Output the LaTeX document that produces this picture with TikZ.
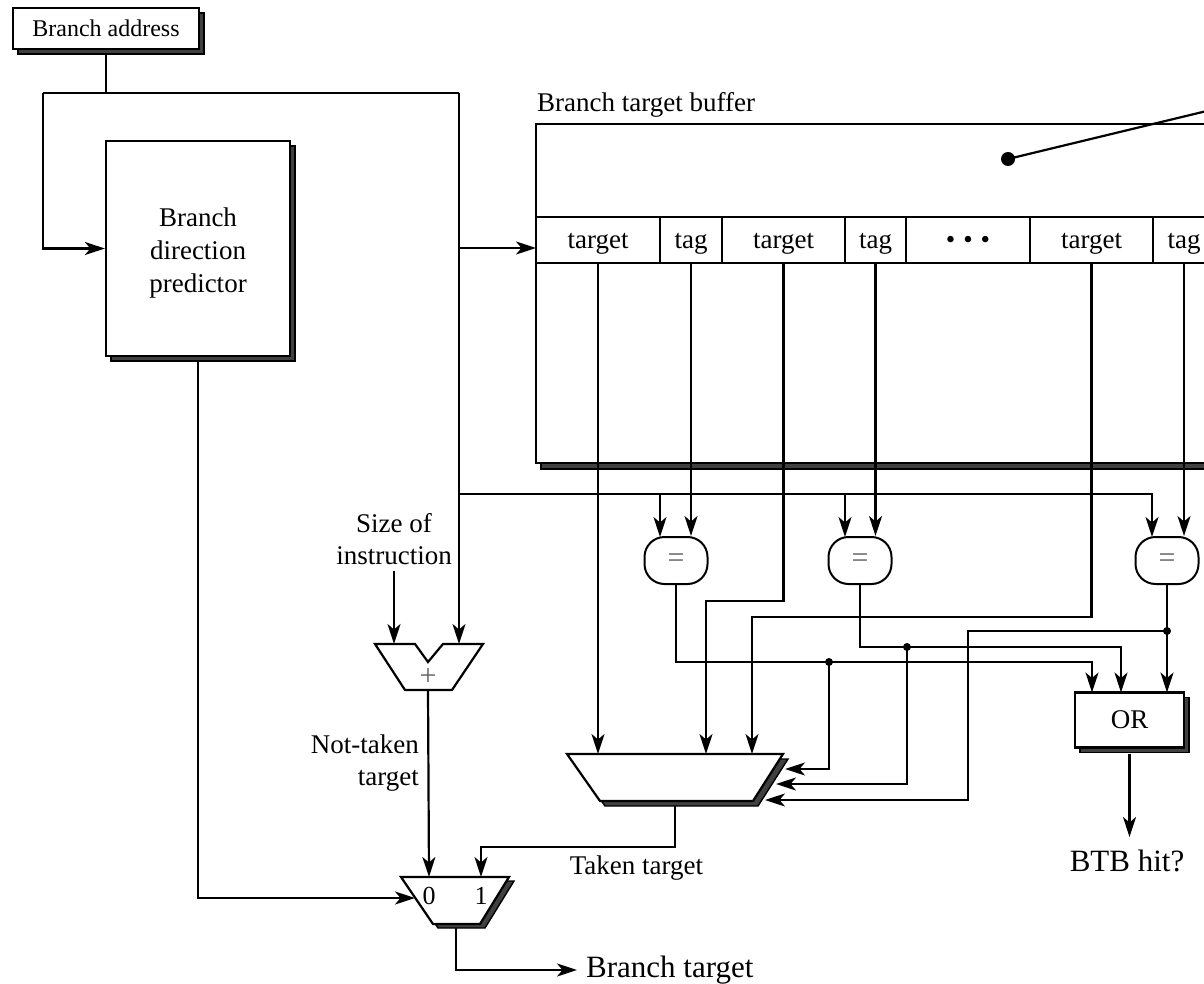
\documentclass[tikz,border=0pt]{standalone}
\usepackage{fontspec}
\setmainfont{Liberation Serif}
\usetikzlibrary{arrows.meta,calc,shadows}
\begin{document}
\begin{tikzpicture}[x=1pt,y=-1pt,
 wire/.style={line width=2.2pt},
 arr/.style={wire,-{Stealth[length=20pt,width=13pt,inset=5.5pt]}},
 lbl/.style={font=\fontsize{27}{31}\selectfont, inner sep=0pt},
 big/.style={font=\fontsize{31}{34}\selectfont, inner sep=0pt},
 shadowfill/.style={fill=gray!50!black, draw=black, line width=1.4pt},
 shbox/.style={drop shadow={shadow xshift=5pt,shadow yshift=-5pt,fill=gray!50!black,draw=black,line width=1.4pt,opacity=1}},
 box/.style={draw, fill=white, line width=2.2pt, inner sep=0pt},
 cell/.style={draw, line width=2pt, minimum height=46pt, inner sep=0pt, text height=22pt, text depth=4pt, font=\fontsize{27}{30}\selectfont},
 cmp/.style={draw, fill=white, line width=2pt, rounded corners=20pt, minimum width=63pt, minimum height=47pt, inner sep=0pt, font=\fontsize{30}{32}\selectfont, text=black!60},
 dot/.style={circle, fill=black, inner sep=0pt, minimum size=8pt},
]
\useasboundingbox (0,0) rectangle (1204,984);
\clip (0,0) rectangle (1204,984);
\fill[white] (0,0) rectangle (1204,984);

% ---------- boxes ----------
\node[box, shbox, minimum width=186pt, minimum height=41pt, font=\fontsize{24}{26}\selectfont] (ba) at (106,28.5) {Branch address};
\node[box, shbox, minimum width=184pt, minimum height=215pt] (bdp) at (198,248.5) {};
\node[lbl, align=center, font=\fontsize{27}{33}\selectfont] (bdpt) at (198,253) {Branch\\direction\\predictor};

% ---------- branch target buffer ----------
\node[lbl, anchor=base west] (btbl) at (537,112) {Branch target buffer};
\filldraw[shadowfill] (541,463) rectangle (1215,469);
\draw[wire] (1215,124) -- (536,124) -- (536,463) -- (1215,463);
\node[cell, minimum width=124pt] (c1) at (598,240) {target};
\node[cell, minimum width=62pt] (c2) at (691,240) {tag};
\node[cell, minimum width=123pt] (c3) at (783.5,240) {target};
\node[cell, minimum width=61pt] (c4) at (875.5,240) {tag};
\node[cell, minimum width=124pt] (c5) at (968,240) {\textbullet\hspace{8pt}\textbullet\hspace{8pt}\textbullet};
\node[cell, minimum width=123pt] (c6) at (1091.5,240) {target};
\node[cell, minimum width=62pt] (c7) at (1184,240) {tag};
\coordinate (btbin) at (536,248);
\node[dot, minimum size=14pt] (pd) at (1008,159) {};
\coordinate (pend) at (1215,109);
\draw[wire] (pd.center) -- (pend);

% ---------- comparators ----------
\node[cmp] (e1) at (676,560.5) {=};
\node[cmp] (e2) at (860,560.5) {=};
\node[cmp] (e3) at (1167,560.5) {=};

% ---------- adder ----------
\draw[wire, fill=white] (375,644) -- (415,644) -- (428,662) -- (443,644) -- (483,644) -- (452,690) -- (405,690) -- cycle;
\node[font=\fontsize{30}{32}\selectfont, inner sep=0pt, text=black!60] (plus) at (428,677) {+};
\coordinate (adL) at (394,644);
\coordinate (adR) at (459,644);
\coordinate (adO) at (428,690);

% ---------- selector mux ----------
\draw[shadowfill, shift={(5,5)}] (567,754) -- (783,754) -- (753,801) -- (600,801) -- cycle;
\draw[wire, fill=white] (567,754) -- (783,754) -- (753,801) -- (600,801) -- cycle;
\coordinate (sIn1) at (598,754);
\coordinate (sIn2) at (706,754);
\coordinate (sIn3) at (752,754);
\coordinate (sR1) at (785,769);
\coordinate (sR2) at (776,784);
\coordinate (sR3) at (765,800);
\coordinate (sOut) at (675,806);

% ---------- final mux ----------
\draw[shadowfill, shift={(5,4)}] (401,877) -- (509,877) -- (480,924) -- (433,924) -- cycle;
\draw[wire, fill=white] (401,877) -- (509,877) -- (480,924) -- (433,924) -- cycle;
\node[font=\fontsize{26}{28}\selectfont, inner sep=0pt] (m0) at (429,896) {0};
\node[font=\fontsize{26}{28}\selectfont, inner sep=0pt] (m1) at (481,896) {1};
\coordinate (mIn0) at (429,877);
\coordinate (mIn1) at (481,877);
\coordinate (mSel) at (415,898);
\coordinate (mOut) at (456,928);

% ---------- OR ----------
\node[box, shbox, minimum width=109pt, minimum height=55pt, font=\fontsize{27}{30}\selectfont] (or) at (1129.5,720) {OR};
\coordinate (orI1) at (1092,692.5);
\coordinate (orI2) at (1121,692.5);
\coordinate (orI3) at (1167,692.5);

% ---------- labels ----------
\node[lbl, align=center, font=\fontsize{27}{32}\selectfont] (soi) at (394,539) {Size of\\instruction};
\node[lbl, align=right, anchor=east, font=\fontsize{27}{32}\selectfont] (ntt) at (419,763) {Not-taken\\target};
\node[lbl] (tt) at (636.5,868) {Taken target};
\node[big] (hit) at (1127,861) {BTB hit?};
\node[big, anchor=west] (bt) at (586,970) {Branch target};
\coordinate (btend) at (577,970);
\coordinate (hitin) at (1129.5,837);

% ---------- wires ----------
\coordinate (j0) at (106,93);
\coordinate (jl) at (43,93);
\coordinate (jr) at (459,93);
\coordinate (jb) at (459,248);
\coordinate (jc) at (459,494);
\coordinate (e1L) at (660,537);
\coordinate (e2L) at (845,537);
\coordinate (e3L) at (1152,537);
\draw[wire] ($(ba.south)+(0,5)$) -- (j0);
\draw[wire] (jl) -- (jr);
\draw[arr] (jl) |- (bdp.west);
\draw[arr] (jr) -- (adR);
\draw[arr] (jb) -- (btbin);
\draw[arr] (jc) -| (e3L);
\draw[arr] (e1L |- jc) -- (e1L);
\draw[arr] (e2L |- jc) -- (e2L);

\draw[arr] (c2.south) -- (c2.south |- e1.north);
\draw[arr] (c4.south) -- (c4.south |- e2.north);
\draw[arr] (c7.south) -- (c7.south |- e3.north);

\coordinate (k3) at (706,601);
\coordinate (k6) at (752,617);
\draw[arr] (c1.south) -- (sIn1);
\draw[arr] (c3.south) |- (k3) -- (sIn2);
\draw[arr] (c6.south) |- (k6) -- (sIn3);

\coordinate (h1) at (1092,662);
\coordinate (h2) at (1121,647);
\draw[arr] (e1.south) |- (h1) -- (orI1);
\draw[arr] (e2.south) |- (h2) -- (orI2);
\draw[arr] (e3.south) -- (orI3);

\node[dot] (d1) at (829,662) {};
\node[dot] (d2) at (907,647) {};
\node[dot] (d3) at (1167,631) {};
\coordinate (g3) at (968,800);
\draw[arr] (d1.center) |- (sR1);
\draw[arr] (d2.center) |- (sR2);
\draw[arr] (d3.center) -| (g3) -- (sR3);

\coordinate (t1) at (481,847);
\draw[arr] (sOut) |- (t1) -- (mIn1);
\draw[arr] ($(soi.south)+(0,6)$) -- (adL);
\draw[arr] (adO) -- (mIn0);
\draw[arr] ($(bdp.south)+(0,5)$) |- (mSel);
\draw[arr] (mOut) |- (btend);
\draw[arr] ($(or.south)+(0,5)$) -- (hitin);
\end{tikzpicture}
\end{document}
